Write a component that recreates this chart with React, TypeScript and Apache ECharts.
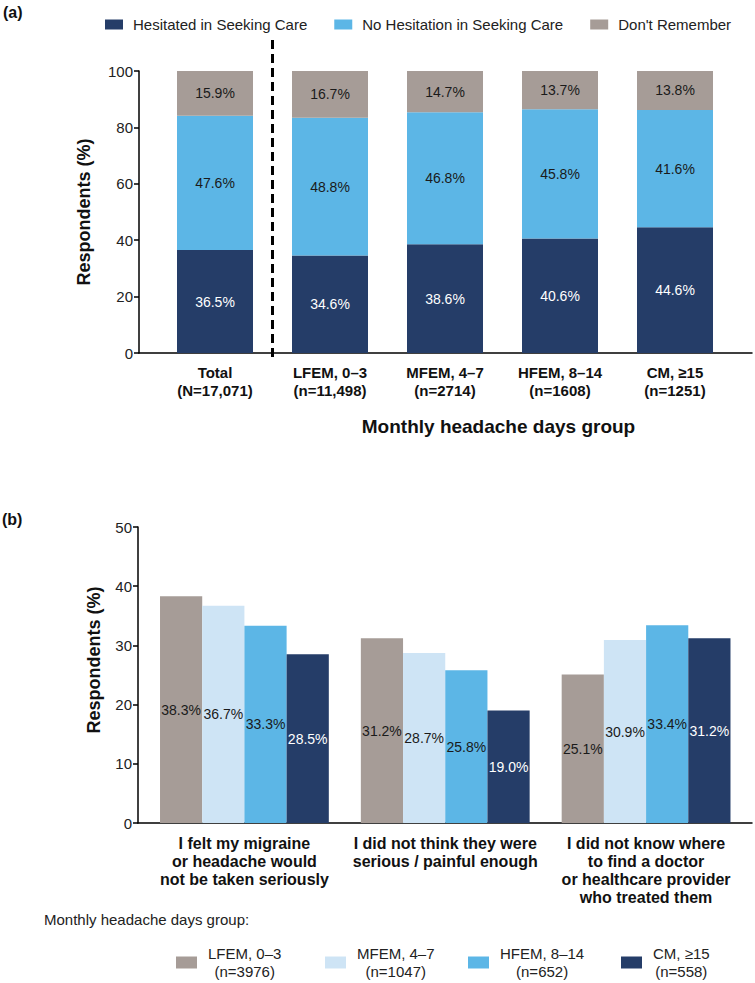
import React, { useEffect, useRef } from "react";
import * as echarts from "echarts";

// ---------- Panel (a) data ----------
const groupsA = [
  "Total\n(N=17,071)",
  "LFEM, 0–3\n(n=11,498)",
  "MFEM, 4–7\n(n=2714)",
  "HFEM, 8–14\n(n=1608)",
  "CM, ≥15\n(n=1251)",
];
const seriesNamesA = ["Hesitated in Seeking Care", "No Hesitation in Seeking Care", "Don't Remember"];
const hesitated = [36.5, 34.6, 38.6, 40.6, 44.6];
const noHesitation = [47.6, 48.8, 46.8, 45.8, 41.6];
const dontRemember = [15.9, 16.7, 14.7, 13.7, 13.8];

// ---------- Panel (b) data ----------
const reasons = [
  "I felt my migraine\nor headache would\nnot be taken seriously",
  "I did not think they were\nserious / painful enough",
  "I did not know where\nto find a doctor\nor healthcare provider\nwho treated them",
];
const mhdGroups = ["LFEM, 0–3", "MFEM, 4–7", "HFEM, 8–14", "CM, ≥15"];
const mhdN = ["n=3976", "n=1047", "n=652", "n=558"];
const lfem = [38.3, 31.2, 25.1];
const mfem = [36.7, 28.7, 30.9];
const hfem = [33.3, 25.8, 33.4];
const cm = [28.5, 19.0, 31.2];

const NAVY = "#253d68";
const SKY = "#5cb6e6";
const GRAY = "#a69c97";
const PALE = "#cee4f5";
const FONT = "'Liberation Sans', Arial, sans-serif";

export default function App() {
  const ref = useRef<HTMLDivElement>(null);

  useEffect(() => {
    const chart = echarts.init(ref.current!, null, { renderer: "svg" });

    const pct = (p: any) => (p.value as number).toFixed(1) + "%";
    const axisLineStyle = { color: "#000", width: 1.5 };

    const frameX = (gridIndex: number) => ({
      gridIndex,
      type: "value",
      min: 0,
      max: 1,
      axisLine: { show: true, onZero: false, lineStyle: axisLineStyle },
      axisTick: { show: false },
      axisLabel: { show: false },
      splitLine: { show: false },
    });

    const colorsA = [NAVY, SKY, GRAY];
    const dataA = [hesitated, noHesitation, dontRemember];
    const colorsB = [GRAY, PALE, SKY, NAVY];
    const dataB = [lfem, mfem, hfem, cm];

    const legendBLeft = [171, 320, 463, 616];

    const option: any = {
      animation: false,
      textStyle: { fontFamily: FONT },
      grid: [
        { left: 139, width: 613, top: 71, height: 282 },
        { left: 157.5, width: 575, top: 71, height: 282 },
        { left: 138, width: 614, top: 527, height: 296 },
        { left: 144, width: 602.5, top: 527, height: 296 },
      ],
      legend: [
        {
          data: seriesNamesA,
          left: 100,
          top: 12,
          itemWidth: 18,
          itemHeight: 10,
          itemGap: 27,
          icon: "rect",
          selectedMode: false,
          textStyle: { fontSize: 15, color: "#222", fontFamily: FONT, padding: [0, 0, 0, 5] },
        },
        ...mhdGroups.map((g, i) => ({
          data: [g],
          left: legendBLeft[i],
          top: 941,
          itemWidth: 21,
          itemHeight: 12,
          icon: "rect",
          selectedMode: false,
          formatter: (name: string) => `{a|${name}}\n{a|(${mhdN[mhdGroups.indexOf(name)]})}`,
          textStyle: {
            fontSize: 15,
            color: "#222",
            fontFamily: FONT,
            padding: [0, 0, 0, 6],
            rich: { a: { align: "center", fontSize: 15, lineHeight: 18, color: "#222", fontFamily: FONT } },
          },
        })),
      ],
      title: [
        {
          text: "Monthly headache days group:",
          left: 44,
          top: 912,
          textStyle: { fontSize: 15, fontWeight: "normal", color: "#222", fontFamily: FONT },
          padding: 0,
        },
      ],
      xAxis: [
        frameX(0),
        {
          gridIndex: 1,
          type: "category",
          data: groupsA,
          axisLine: { show: false },
          axisTick: { show: false },
          axisLabel: { fontSize: 15, fontWeight: "bold", color: "#111", lineHeight: 18, margin: 10, interval: 0 },
        },
        frameX(2),
        {
          gridIndex: 3,
          type: "category",
          data: reasons,
          axisLine: { show: false },
          axisTick: { show: false },
          axisLabel: { fontSize: 16, fontWeight: "bold", color: "#111", lineHeight: 18, margin: 11, interval: 0 },
        },
      ],
      yAxis: [
        {
          gridIndex: 0,
          type: "value",
          min: 0,
          max: 100,
          interval: 20,
          axisLine: { show: true, lineStyle: axisLineStyle },
          axisTick: { show: true, length: 5, lineStyle: axisLineStyle },
          axisLabel: { fontSize: 15, color: "#222", margin: 6 },
          splitLine: { show: false },
          name: "Respondents (%)",
          nameLocation: "middle",
          nameGap: 46,
          nameTextStyle: { fontSize: 18, fontWeight: "bold", color: "#111", verticalAlign: "bottom" },
        },
        { gridIndex: 1, type: "value", min: 0, max: 100, show: false },
        {
          gridIndex: 2,
          type: "value",
          min: 0,
          max: 50,
          interval: 10,
          axisLine: { show: true, lineStyle: axisLineStyle },
          axisTick: { show: true, length: 5, lineStyle: axisLineStyle },
          axisLabel: { fontSize: 15, color: "#222", margin: 6 },
          splitLine: { show: false },
          name: "Respondents (%)",
          nameLocation: "middle",
          nameGap: 35,
          nameTextStyle: {
            fontSize: 18,
            fontWeight: "bold",
            color: "#111",
            verticalAlign: "bottom",
            padding: [0, 0, 0, 30],
          },
        },
        { gridIndex: 3, type: "value", min: 0, max: 50, show: false },
      ],
      series: [
        ...seriesNamesA.map((name, i) => ({
          name,
          type: "bar",
          stack: "a",
          xAxisIndex: 1,
          yAxisIndex: 1,
          barWidth: 76,
          data: dataA[i],
          itemStyle: { color: colorsA[i] },
          label: {
            show: true,
            position: "inside",
            formatter: pct,
            fontSize: 14,
            color: i === 0 ? "#ffffff" : "#1a1a1a",
            fontFamily: FONT,
          },
        })),
        ...mhdGroups.map((name, i) => ({
          name,
          type: "bar",
          xAxisIndex: 3,
          yAxisIndex: 3,
          barWidth: 42.2,
          barGap: "0%",
          data: dataB[i],
          itemStyle: { color: colorsB[i] },
          label: {
            show: true,
            position: "inside",
            formatter: pct,
            fontSize: 14,
            color: i === 3 ? "#ffffff" : "#1a1a1a",
            fontFamily: FONT,
          },
        })),
      ],
    };

    chart.setOption(option);

    const p0 = chart.convertToPixel({ xAxisIndex: 1 }, 0) as number;
    const p1 = chart.convertToPixel({ xAxisIndex: 1 }, 1) as number;
    const p4 = chart.convertToPixel({ xAxisIndex: 1 }, 4) as number;
    const dashX = (p0 + p1) / 2;

    chart.setOption({
      graphic: [
        {
          id: "labelA",
          type: "text",
          left: 3,
          top: 4,
          style: { text: "(a)", font: `bold 16px ${FONT}`, fill: "#111" },
        },
        {
          id: "labelB",
          type: "text",
          left: 2,
          top: 511,
          style: { text: "(b)", font: `bold 16px ${FONT}`, fill: "#111" },
        },
        {
          id: "divider",
          type: "line",
          shape: { x1: dashX, y1: 40, x2: dashX, y2: 362 },
          style: { stroke: "#000", lineWidth: 3, lineDash: [9, 5] },
        },
        {
          id: "xnameA",
          type: "text",
          x: (p1 + p4) / 2 - 4,
          y: 426,
          style: {
            text: "Monthly headache days group",
            font: `bold 19px ${FONT}`,
            fill: "#111",
            align: "center",
            verticalAlign: "middle",
          },
        },
      ],
    });

    return () => chart.dispose();
  }, []);

  return <div ref={ref} style={{ position: "absolute", left: 0, top: 0, width: 755, height: 983 }} />;
}
